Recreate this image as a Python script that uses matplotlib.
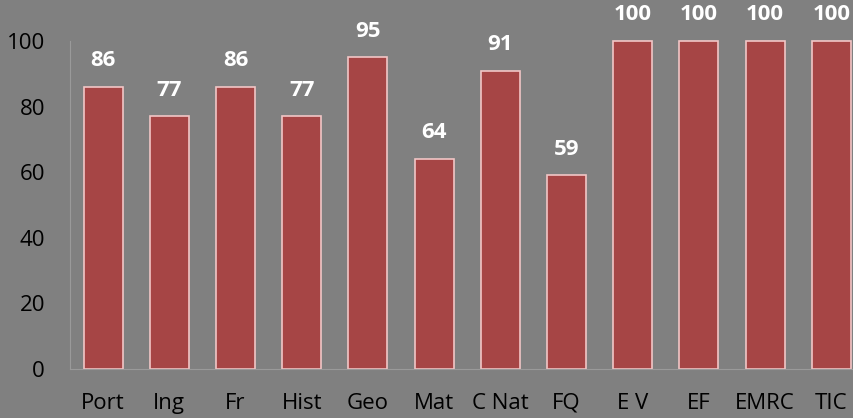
import matplotlib
matplotlib.use("Agg")
import matplotlib.pyplot as plt

categories = ["Port", "Ing", "Fr", "Hist", "Geo", "Mat", "C Nat", "FQ", "E V", "EF", "EMRC", "TIC"]
values = [86, 77, 86, 77, 95, 64, 91, 59, 100, 100, 100, 100]
yticks = [0, 20, 40, 60, 80, 100]

plt.rcParams['font.family'] = ['Open Sans', 'DejaVu Sans']
bg = "#808080"
fig = plt.figure(figsize=(8.54, 4.18), dpi=100, facecolor=bg)
# axes: left 70px, bottom at y=369 (from top), 100 at y=41
left = 70 / 854
bottom = (418 - 369) / 418
unit = (369 - 41) / 100
height = unit * 110 / 418
width = (12 * 66.2) / 854
ax = fig.add_axes([left, bottom, width, height])
ax.set_facecolor(bg)
x = list(range(len(categories)))
bars = ax.bar(x, values, width=0.59, color="#A64545", edgecolor="#F2C6C6", linewidth=1.2)
for xi, v in zip(x, values):
    ax.text(xi, v + 8.0, str(v), ha="center", va="center", color="white",
            fontsize=16, fontweight="bold")
ax.set_xlim(-0.5, 11.5)
ax.set_ylim(0, 110)
ax.set_yticks(yticks)
ax.set_xticks(x)
ax.set_xticklabels(categories)
ax.tick_params(axis="both", length=0, labelsize=16, colors="black")
ax.tick_params(axis="y", pad=18)
ax.tick_params(axis="x", pad=17)
for s in ["top", "right"]:
    ax.spines[s].set_visible(False)
for s in ["left", "bottom"]:
    ax.spines[s].set_color("#9A9A9A")
    ax.spines[s].set_linewidth(0.8)
ax.spines["left"].set_bounds(0, 100)
fig.savefig("out.png", dpi=100, facecolor=bg)
